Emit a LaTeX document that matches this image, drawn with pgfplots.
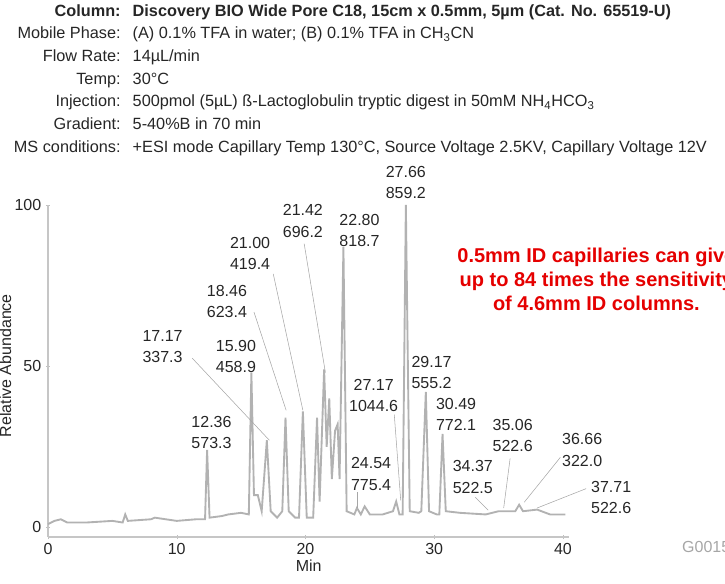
\documentclass[border=0pt]{standalone}
\usepackage{pgfplots}
\pgfplotsset{compat=1.18}
\usepackage{fontspec}
\setmainfont{Liberation Sans}
\begin{document}
\begin{tikzpicture}
\path[use as bounding box] (0,0) rectangle (543.75pt,437.25pt);
\begin{axis}[at={(36pt,34.5pt)},anchor=south west,scale only axis,
 width=391pt,height=249pt,xmin=0,xmax=40.5,ymin=-3,ymax=100,
 axis lines=left, axis line style={gray!45,line width=2pt,-},
 xtick={0,10,20,30,40}, ytick={0,50,100}, major tick length=3pt,
 tick style={gray!50},
 tick label style={font=\fontsize{12}{14}\selectfont, text=black!85},
 /pgf/number format/assume math mode=true,
 xlabel={Min},
 label style={font=\fontsize{12}{14}\selectfont, text=black!85},
 xlabel style={yshift=3pt},
 clip=false]
\addplot[gray!60,line width=1.4pt] coordinates {
(0,1) (0.5,2) (1,2.5) (1.5,1.5) (3,1.5) (5,2) (5.8,1.5) (6,4) (6.2,2) (8,2.5) (8.3,3) (10,2) (11.5,2.5) (12.2,2.5) (12.36,24) (12.55,3) (13.5,3.5) (14,4) (15,4.5) (15.6,4) (15.8,48) (16.0,10) (16.3,10) (16.6,5) (17.0,27) (17.3,5) (17.8,3) (18.2,5) (18.45,34) (18.7,5) (19.2,3) (19.5,3) (19.8,36) (20.1,3) (20.6,3) (20.9,34) (21.1,8) (21.45,49) (21.65,25) (21.85,40) (22.05,15) (22.3,30) (22.5,32) (22.65,15) (22.95,87) (23.2,5) (23.8,4) (24.0,6) (24.3,4) (24.6,6.5) (25,4) (26,4) (26.8,5) (27.05,8) (27.3,4) (27.55,4) (27.8,100) (28.1,5) (28.8,4.5) (29.0,5) (29.35,42) (29.6,5) (30.2,4) (30.4,4) (30.65,29) (30.9,5) (32,4.5) (34,4) (35,5) (36.3,5) (36.6,7) (36.9,5) (38,5.5) (39,4) (40.2,4)};
\tikzset{pl/.style={font=\fontsize{12}{16}\selectfont, align=center, text=black!85}}
\node[pl] at (axis cs:27.8,107) {27.66\\859.2};
\node[pl] at (axis cs:19.8,95) {21.42\\696.2};
\node[pl] at (axis cs:24.2,92) {22.80\\818.7};
\node[pl] at (axis cs:15.7,85) {21.00\\419.4};
\node[pl] at (axis cs:13.9,70) {18.46\\623.4};
\node[pl] at (axis cs:8.9,56) {17.17\\337.3};
\node[pl] at (axis cs:14.6,53) {15.90\\458.9};
\node[pl] at (axis cs:12.7,29.5) {12.36\\573.3};
\node[pl] at (axis cs:29.8,48) {29.17\\555.2};
\node[pl] at (axis cs:25.3,41) {27.17\\1044.6};
\node[pl] at (axis cs:31.7,35) {30.49\\772.1};
\node[pl] at (axis cs:36.1,28.5) {35.06\\522.6};
\node[pl] at (axis cs:41.5,24) {36.66\\322.0};
\node[pl] at (axis cs:25.1,16.5) {24.54\\775.4};
\node[pl] at (axis cs:33.0,15.6) {34.37\\522.5};
\node[pl] at (axis cs:43.75,9.2) {37.71\\522.6};
\tikzset{ld/.style={gray!70,line width=0.4pt}}
\draw[ld] (axis cs:11.2,52.5) -- (axis cs:17.2,27);
\draw[ld] (axis cs:16.0,66.8) -- (axis cs:18.5,36.3);
\draw[ld] (axis cs:17.5,78.6) -- (axis cs:19.8,36.3);
\draw[ld] (axis cs:19.9,88) -- (axis cs:21.55,48);
\draw[ld] (axis cs:26.9,35) -- (axis cs:27.4,8.4);
\draw[ld] (axis cs:24.0,11) -- (axis cs:24.0,6);
\draw[ld] (axis cs:33.2,9.3) -- (axis cs:34.2,5.3);
\draw[ld] (axis cs:35.9,21.4) -- (axis cs:35.4,6);
\draw[ld] (axis cs:39.8,21.7) -- (axis cs:37.0,7.8);
\draw[ld] (axis cs:41.8,12) -- (axis cs:38.0,6);
\node[font=\bfseries\fontsize{15}{18}\selectfont, text=red!90!black, align=center] at (axis cs:42.6,77) {0.5mm ID capillaries can give\\up to 84 times the sensitivity\\of 4.6mm ID columns.};
\node[anchor=west, text=gray!70, font=\fontsize{12}{14}\selectfont] at (axis cs:48.9,-6) {G001530};
\end{axis}
\node[rotate=90,font=\fontsize{12}{14}\selectfont,text=black!85] at (4pt,163pt) {Relative Abundance};
\tikzset{hl/.style={anchor=base east,font=\fontsize{12.2}{14}\selectfont,text=black!85},
 hr/.style={anchor=base west,font=\fontsize{12.2}{14}\selectfont,text=black!85}}
\node[hl,font=\bfseries\fontsize{12.2}{14}\selectfont] at (94pt,425pt) {Column:};
\node[hr,font=\bfseries\fontsize{12.2}{14}\selectfont] at (96pt,425pt) {Discovery BIO Wide Pore C18, 15cm x 0.5mm, 5µm (Cat. No. 65519-U)};
\node[hl] at (94pt,408pt) {Mobile Phase:};
\node[hr] at (96pt,408pt) {(A) 0.1\% TFA in water; (B) 0.1\% TFA in CH\textsubscript{3}CN};
\node[hl] at (94pt,391pt) {Flow Rate:};
\node[hr] at (96pt,391pt) {14µL/min};
\node[hl] at (94pt,374pt) {Temp:};
\node[hr] at (96pt,374pt) {30°C};
\node[hl] at (94pt,357pt) {Injection:};
\node[hr] at (96pt,357pt) {500pmol (5µL) ß-Lactoglobulin tryptic digest in 50mM NH\textsubscript{4}HCO\textsubscript{3}};
\node[hl] at (94pt,340pt) {Gradient:};
\node[hr] at (96pt,340pt) {5-40\%B in 70 min};
\node[hl] at (94pt,323pt) {MS conditions:};
\node[hr] at (96pt,323pt) {+ESI mode Capillary Temp 130°C, Source Voltage 2.5KV, Capillary Voltage 12V};
\end{tikzpicture}
\end{document}
